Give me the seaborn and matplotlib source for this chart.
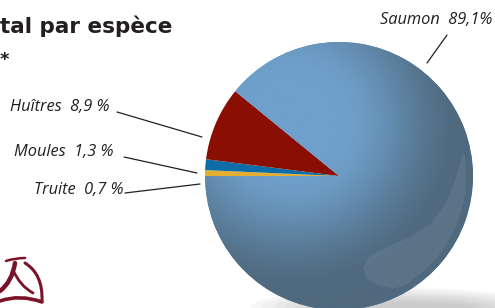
import numpy as np
import matplotlib
matplotlib.use("Agg")
import matplotlib.pyplot as plt
import seaborn as sns
from matplotlib.lines import Line2D
from matplotlib.patches import Ellipse, Polygon, PathPatch
from matplotlib.path import Path
from matplotlib.colors import to_rgb

sns.set_theme(style="white")
plt.rcParams["font.family"] = ["Open Sans", "DejaVu Sans"]

# ---- data ----
species = ["Truite", "Moules", "Huîtres", "Saumon"]
shares = [0.7, 1.3, 8.9, 89.1]
share_labels = ["0,7 %", "1,3 %", "8,9 %", "89,1%"]
colors = ["#e4ae30", "#0e6ca6", "#8a0e02", "#6592bb"]
title_visible = "tal par espèce"   # left part of the title is cropped in the reference
title_line2 = "*"

W, H = 495, 308
fig = plt.figure(figsize=(W / 100, H / 100), dpi=100)
fig.patch.set_facecolor("white")

def fx(x):
    return x / W

def fy(y):
    return 1 - y / H

# soft shadow under the ball
for i in range(8):
    e = Ellipse((fx(400), fy(308)), width=fx(300 - i * 22), height=(40 - i * 4) / H,
                transform=fig.transFigure, color="#808080", alpha=0.06, lw=0, zorder=-1)
    fig.patches.append(e)

cx, cy, r = 339, 176, 134
ax = fig.add_axes([fx(cx - r), 1 - (cy + r) / H, 2 * r / W, 2 * r / H])
wedges, _ = ax.pie(shares, colors=colors, startangle=180, counterclock=False,
                   radius=1, wedgeprops=dict(linewidth=0))

# shading of the big slice
n = 400
gx, gy = np.meshgrid(np.linspace(-1, 1, n), np.linspace(-1, 1, n))
d = np.sqrt((gx + 0.35) ** 2 + (gy - 0.4) ** 2)
t = np.clip((d - 0.35) / 0.95, 0, 1)
t = t * t * (3 - 2 * t)
light = np.array(to_rgb("#6fa0cb"))
dark = np.array(to_rgb("#4f697e"))
img = light[None, None, :] * (1 - t[..., None]) + dark[None, None, :] * t[..., None]
im = ax.imshow(img, extent=(-1, 1, -1, 1), origin="lower", zorder=1.5, interpolation="bilinear")
im.set_clip_path(wedges[3])

# glossy crescent highlight
a = np.radians(np.linspace(11, -60, 40))
outer = np.column_stack([0.95 * np.cos(a), 0.95 * np.sin(a)])
inner = np.array([(0.40, -0.84), (0.30, -0.82), (0.21, -0.77), (0.18, -0.69),
                  (0.22, -0.61), (0.34, -0.54), (0.52, -0.46), (0.68, -0.36),
                  (0.80, -0.20), (0.87, -0.02), (0.91, 0.12)])
ax.add_patch(Polygon(np.vstack([outer, inner]), closed=True, facecolor="white",
                     alpha=0.07, lw=0, zorder=2))
ax.set_xlim(-1, 1)
ax.set_ylim(-1, 1)
ax.axis("off")

# title (visible part)
fig.text(fx(0), fy(33), title_visible, ha="left", va="baseline", fontsize=15.5,
         fontweight="bold", color="#231f20", family="DejaVu Sans")
fig.text(fx(0), fy(65), title_line2, ha="left", va="baseline", fontsize=13,
         fontweight="bold", color="#231f20", family="DejaVu Sans")

# labels
lab_style = dict(fontsize=11.8, fontstyle="italic", color="#231f20", va="center")
fig.text(fx(109), fy(107), f"{species[2]}  {share_labels[2]}", ha="right", **lab_style)
fig.text(fx(113), fy(152), f"{species[1]}  {share_labels[1]}", ha="right", **lab_style)
fig.text(fx(124), fy(190), f"{species[0]}  {share_labels[0]}", ha="right", **lab_style)
fig.text(fx(492), fy(20), f"{species[3]}  {share_labels[3]}", ha="right", **lab_style)

lines = [((117, 112), (202, 137)), ((124, 157), (197, 173)),
         ((125, 193), (200, 184)), ((447, 35), (427, 63))]
for (x0, y0), (x1, y1) in lines:
    fig.lines.append(Line2D([fx(x0), fx(x1)], [fy(y0), fy(y1)], transform=fig.transFigure,
                            color="#231f20", lw=0.9))

# logo (stylised sail) bottom-left
logo_col = "#7b1228"
strokes = [
    ([(6, 261), (15, 258), (25, 258)], 1.8),
    ([(15, 263), (12, 282), (0, 291)], 3.2),
    ([(25, 263), (43, 274), (42, 301)], 2.2),
    ([(13, 270), (20, 286), (33, 293)], 2.0),
    ([(0, 301), (20, 294), (42, 302)], 2.6),
]
for pts, lw in strokes:
    verts = [(fx(x), fy(y)) for x, y in pts]
    p = Path(verts, [Path.MOVETO, Path.CURVE3, Path.CURVE3])
    fig.patches.append(PathPatch(p, transform=fig.transFigure, facecolor="none",
                                 edgecolor=logo_col, lw=lw, capstyle="round"))

fig.savefig("out.png", dpi=100, facecolor="white")
